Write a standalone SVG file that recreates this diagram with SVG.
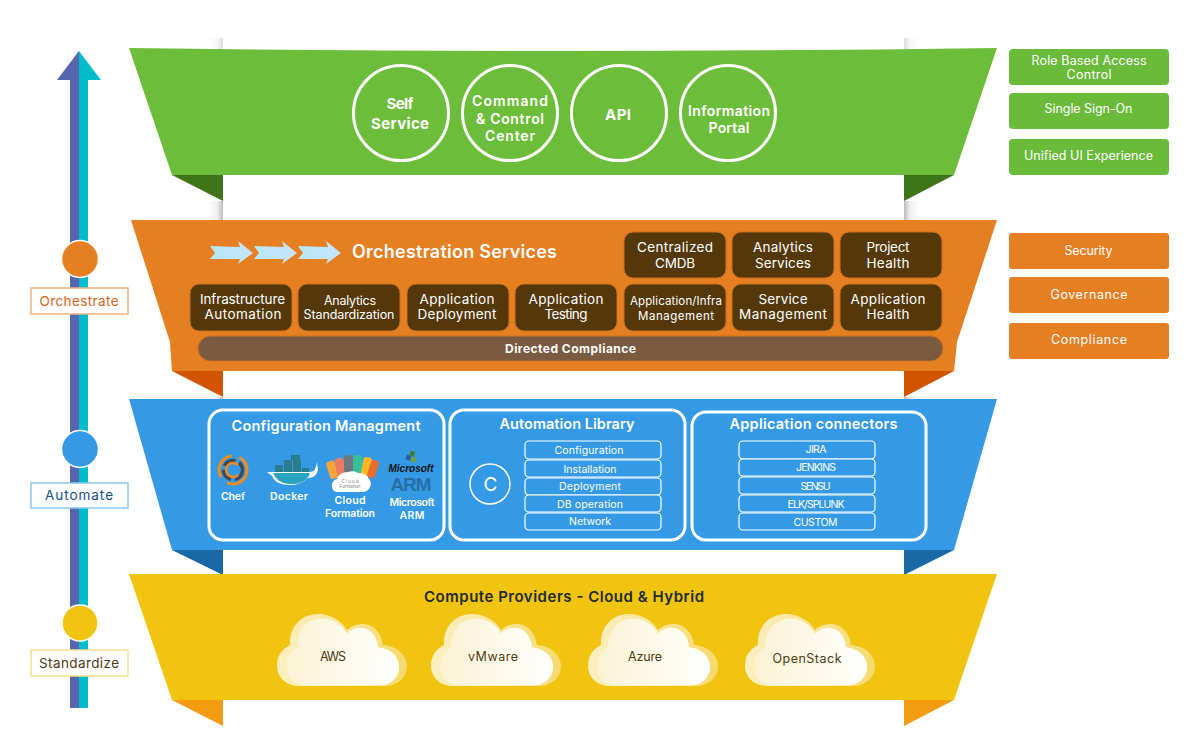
<svg xmlns="http://www.w3.org/2000/svg" width="1200" height="756" viewBox="0 0 1200 756">
<style>
text{font-family:"Inter","Lato","Liberation Sans",sans-serif;text-anchor:middle;fill:#fff}
.b{font-weight:700}
.s{font-weight:600}
.dk{fill:#54380a;stroke:#c9701f;stroke-width:1}
.t13{font-size:12.500px}
.t14{font-size:13.500px}
.t12{font-size:10.500px}
.lib{fill:#349ae6;stroke:#fff;stroke-width:1.2}
.pan{fill:#349ae6;stroke:#fff;stroke-width:3}
.lab{fill:#fff;stroke-width:1.5}
.ink{fill:#4f3a12}
.circ{fill:none;stroke:#fff;stroke-width:3}
</style>
<defs>
<linearGradient id="pl" x1="0" x2="1" y1="0" y2="0"><stop offset="0" stop-color="#fff"/><stop offset=".6" stop-color="#f0f0f0"/><stop offset="1" stop-color="#bdbdbd"/></linearGradient>
<linearGradient id="pr" x1="0" x2="1" y1="0" y2="0"><stop offset="0" stop-color="#bdbdbd"/><stop offset=".4" stop-color="#f0f0f0"/><stop offset="1" stop-color="#fff"/></linearGradient>
<linearGradient id="cl1" x1="0" x2="1" y1="0" y2="0"><stop offset="0" stop-color="#fbf0c2"/><stop offset="1" stop-color="#f7da6e"/></linearGradient>
<linearGradient id="cl2" x1="0" x2="1" y1="0" y2="0"><stop offset="0" stop-color="#fbf3d3"/><stop offset="1" stop-color="#ffffff"/></linearGradient>
<linearGradient id="ar" x1="0" x2="1" y1="0" y2="0"><stop offset="0" stop-color="#b7e8f3"/><stop offset="1" stop-color="#c6e4ff"/></linearGradient>
<g id="cloud">
<path fill="url(#cl1)" d="M22 72C8 72 0 62 0 52C0 42 5 35 13 31C12 12 25 0 41 0C54 0 65 7 70 16C74 12 80 10 86 10C97 10 105 20 106 31C120 32 130 41 130 52C130 64 120 72 108 72Z"/>
<path fill="url(#cl2)" transform="translate(9 4.500) scale(.87 .93)" d="M22 72C8 72 0 62 0 52C0 42 5 35 13 31C12 12 25 0 41 0C54 0 65 7 70 16C74 12 80 10 86 10C97 10 105 20 106 31C120 32 130 41 130 52C130 64 120 72 108 72Z"/>
</g>
<polygon id="chev" fill="url(#ar)" points="210,246 240,247 238,241 253,253 238,264 240,259 210,259 215,253"/>
</defs>

<g id="pillars">
<rect x="208" y="38" width="15" height="12" fill="url(#pl)" opacity=".5"/><rect x="904" y="38" width="15" height="12" fill="url(#pr)" opacity=".5"/>
<rect x="208" y="201" width="15" height="20" fill="url(#pl)"/><rect x="904" y="201" width="15" height="20" fill="url(#pr)"/>
<rect x="208" y="397" width="15" height="3" fill="url(#pl)"/><rect x="904" y="397" width="15" height="3" fill="url(#pr)"/>
</g>

<g id="connectors">
<polygon fill="#5566b1" points="79,51 57,80 70,80 70,708 79,708"/>
<polygon fill="#00bccd" points="79,51 101,80 88,80 88,708 79,708"/>
</g>

<g id="band-portal">
<polygon fill="#3f7519" points="172,175 223,201 223,175"/>
<polygon fill="#3f7519" points="954,175 904,201 904,175"/>
<path fill="#6cbe3a" d="M129 48Q563 54 997 48L954 175H172Z"/>
</g>
<g id="self-service"><circle class="circ" cx="401" cy="113" r="47.500"/><text class="b" x="400" y="109" font-size="15" textLength="27">Self</text><text class="b" x="400" y="129" font-size="15" textLength="58">Service</text></g>
<g id="command-control"><circle class="circ" cx="510" cy="113" r="47.500"/><text class="s" x="510" y="106" font-size="14" textLength="76">Command</text><text class="s" x="510" y="124" font-size="14" textLength="68">&amp; Control</text><text class="s" x="510" y="141" font-size="14" textLength="50">Center</text></g>
<g id="api"><circle class="circ" cx="619" cy="113" r="47.500"/><text class="b" x="618" y="120" font-size="15" textLength="26">API</text></g>
<g id="information-portal"><circle class="circ" cx="728" cy="113" r="47.500"/><text class="s" x="729" y="116" font-size="14" textLength="82">Information</text><text class="s" x="729" y="133" font-size="14" textLength="41">Portal</text></g>

<g id="band-orchestration">
<polygon fill="#d35400" points="172,371 223,397 223,371"/>
<polygon fill="#d35400" points="954,371 904,397 904,371"/>
<polygon fill="#e67e22" points="131,220 997,220 957,342 954,371 172,371 170,342"/>
<use href="#chev"/><use href="#chev" x="44"/><use href="#chev" x="88"/>
<text class="s" x="454.500" y="258" font-size="18" textLength="205">Orchestration Services</text>
</g>
<g id="centralized-cmdb"><rect class="dk" x="624" y="232" width="102" height="46" rx="9"/><text class="t14" x="675" y="252" textLength="76">Centralized</text><text class="t14" x="675" y="268" textLength="40">CMDB</text></g>
<g id="analytics-services"><rect class="dk" x="732" y="232" width="102" height="46" rx="9"/><text class="t14" x="783" y="252" textLength="60">Analytics</text><text class="t14" x="783" y="268" textLength="56">Services</text></g>
<g id="project-health"><rect class="dk" x="840" y="232" width="102" height="46" rx="9"/><text class="t14" x="888" y="252" textLength="43">Project</text><text class="t14" x="888" y="268" textLength="43">Health</text></g>
<g id="infrastructure-automation"><rect class="dk" x="190" y="284" width="102" height="47" rx="9"/><text class="t14" x="242.500" y="304" textLength="85">Infrastructure</text><text class="t14" x="243" y="319" textLength="77">Automation</text></g>
<g id="analytics-standardization"><rect class="dk" x="298" y="284" width="102" height="47" rx="9"/><text x="350" y="305" font-size="12.500" textLength="52">Analytics</text><text x="349" y="319" font-size="12.500" textLength="91">Standardization</text></g>
<g id="application-deployment"><rect class="dk" x="407" y="284" width="102" height="47" rx="9"/><text class="t14" x="457" y="304" textLength="75">Application</text><text class="t14" x="457" y="319" textLength="79">Deployment</text></g>
<g id="application-testing"><rect class="dk" x="515" y="284" width="102" height="47" rx="9"/><text class="t14" x="566" y="304" textLength="75">Application</text><text class="t14" x="566" y="319" textLength="43">Testing</text></g>
<g id="application-infra"><rect class="dk" x="624" y="284" width="102" height="47" rx="9"/><text x="676" y="305" font-size="11.500" textLength="92">Application/Infra</text><text x="676" y="320" font-size="11.500" textLength="76">Management</text></g>
<g id="service-management"><rect class="dk" x="732" y="284" width="102" height="47" rx="9"/><text class="t14" x="783" y="304" textLength="49">Service</text><text class="t14" x="783" y="319" textLength="88">Management</text></g>
<g id="application-health"><rect class="dk" x="840" y="284" width="102" height="47" rx="9"/><text class="t14" x="888" y="304" textLength="75">Application</text><text class="t14" x="888" y="319" textLength="43">Health</text></g>
<g id="directed-compliance"><rect x="198" y="336" width="745" height="25" rx="12.500" fill="#7a5a40" stroke="#c9701f"/><text class="b" x="570.500" y="353" font-size="12" textLength="131">Directed Compliance</text></g>

<g id="band-automation">
<polygon fill="#1768a5" points="172,550 223,575 223,550"/>
<polygon fill="#1768a5" points="954,550 904,575 904,550"/>
<polygon fill="#349ae6" points="129,399 997,399 954,550 172,550"/>
</g>
<g id="configuration-management">
<rect class="pan" x="209" y="410" width="235" height="130" rx="14"/>
<text class="s" x="326" y="431" font-size="14.500" textLength="189">Configuration Managment</text>
<g id="chef-logo" fill="none">
<circle cx="233" cy="470" r="14" stroke="#f18b21" stroke-width="3" stroke-dasharray="28 8"/>
<circle cx="233" cy="470" r="9.500" stroke="#3c4a5a" stroke-width="3.500" stroke-dasharray="13 4"/>
<path d="M238 465a7 7 0 1 0 0 10" stroke="#f18b21" stroke-width="2.500"/>
</g>
<text class="s" x="233" y="500" font-size="10.500" textLength="24">Chef</text>
<g id="docker-logo">
<path fill="#fff" d="M267 472H310Q316 472 317 462L318 470Q316 478 308 478Q300 486 287 485Q275 484 272 476Z"/>
<path fill="#2aa5c0" d="M273 473H310Q306 485 289 484Q277 483 273 473Z"/>
<path fill="#2a7d8c" d="M275 465h8v7h-8zM284 465h8v7h-8zM293 465h8v7h-8zM284 460h8v5h-8zM293 460h8v5h-8zM291 455h9v5h-9zM302 468h7v4h-7z"/>
</g>
<text class="s" x="289" y="500" font-size="10.500" textLength="38">Docker</text>
<g id="cloudformation-logo">
<rect x="328" y="461" width="9" height="18" rx="3" fill="#f6a33a" transform="rotate(-18 332 470)"/>
<rect x="336" y="458" width="9" height="20" rx="3" fill="#ec7a63" transform="rotate(-10 340 468)"/>
<rect x="344" y="455" width="9" height="22" rx="3" fill="#6f7880"/>
<rect x="353" y="455" width="9" height="22" rx="3" fill="#37bf9a"/>
<rect x="362" y="457" width="9" height="20" rx="3" fill="#f9b824" transform="rotate(10 366 467)"/>
<rect x="369" y="460" width="8" height="18" rx="3" fill="#ef6a2d" transform="rotate(18 373 469)"/>
<path fill="#fff" d="M337 492Q331 491 332 484Q333 480 337 479Q339 472 348 472Q354 470 358 473Q366 472 369 479Q372 482 370 487Q368 492 362 492Z"/>
<text x="350" y="483" font-size="4.500" style="fill:#7a7f85" textLength="17">Cloud</text>
<text x="350" y="488" font-size="4.500" style="fill:#7a7f85" textLength="21">Formation</text>
</g>
<text class="s" x="350" y="504" font-size="10.500" textLength="31">Cloud</text>
<text class="s" x="350" y="517" font-size="10.500" textLength="50">Formation</text>
<g id="arm-logo">
<rect x="410" y="451" width="5" height="5" fill="#3f7e3a" transform="rotate(20 412 453)"/><rect x="406" y="455" width="5" height="5" fill="#2d5fa8" transform="rotate(20 408 457)"/><rect x="411" y="457" width="5" height="5" fill="#6aa53a" transform="rotate(20 413 459)"/>
<text x="411" y="472" font-size="10" font-weight="800" font-style="italic" style="fill:#111;font-family:'Liberation Sans',sans-serif" textLength="45">Microsoft</text>
<text x="411" y="491" font-size="19" font-weight="700" style="fill:#2a6ea6;font-family:'Liberation Sans',sans-serif" textLength="41">ARM</text>
</g>
<text class="s" x="412" y="506" font-size="10.500" textLength="45">Microsoft</text>
<text class="s" x="412" y="519" font-size="10.500" textLength="25">ARM</text>
</g>
<g id="automation-library">
<rect class="pan" x="450" y="410" width="235" height="130" rx="14"/>
<text class="s" x="567" y="429" font-size="14.500" textLength="135">Automation Library</text>
<circle cx="490" cy="484" r="20" fill="none" stroke="#fff" stroke-width="1.500"/>
<text x="490.500" y="491" font-size="19">C</text>
<rect class="lib" x="525" y="441" width="136" height="18" rx="4"/><text class="t12" x="589" y="454" textLength="69">Configuration</text>
<rect class="lib" x="525" y="460" width="136" height="17" rx="4"/><text class="t12" x="590" y="473" textLength="53">Installation</text>
<rect class="lib" x="525" y="478" width="136" height="17" rx="4"/><text class="t12" x="590" y="490" textLength="62">Deployment</text>
<rect class="lib" x="525" y="495" width="136" height="17" rx="4"/><text class="t12" x="590" y="508" textLength="66">DB operation</text>
<rect class="lib" x="525" y="513" width="136" height="17" rx="4"/><text class="t12" x="590" y="525" textLength="42">Network</text>
</g>
<g id="application-connectors">
<rect class="pan" x="692" y="412" width="234" height="128" rx="14"/>
<text class="s" x="813.500" y="429" font-size="14.500" textLength="168">Application connectors</text>
<rect class="lib" x="739" y="441" width="136" height="18" rx="4"/><text class="t12" x="816" y="453" textLength="21">JIRA</text>
<rect class="lib" x="739" y="459" width="136" height="17" rx="4"/><text class="t12" x="816" y="471" textLength="40">JENKINS</text>
<rect class="lib" x="739" y="477" width="136" height="17" rx="4"/><text class="t12" x="815.500" y="490" textLength="30">SENSU</text>
<rect class="lib" x="739" y="495" width="136" height="17" rx="4"/><text class="t12" x="816" y="508" textLength="57">ELK/SPLUNK</text>
<rect class="lib" x="739" y="513" width="136" height="17" rx="4"/><text class="t12" x="815.500" y="526" textLength="44">CUSTOM</text>
</g>

<g id="band-compute">
<polygon fill="#f39c12" points="172,700 223,726 223,700"/>
<polygon fill="#f39c12" points="954,700 904,726 904,700"/>
<polygon fill="#f1c40f" points="129,574 997,574 954,700 172,700"/>
<text class="s" x="564" y="602" font-size="15" textLength="280" style="fill:#1f2a33">Compute Providers - Cloud &amp; Hybrid</text>
</g>
<g id="aws"><use href="#cloud" x="277" y="614"/><text class="ink" font-size="12.500" x="333" y="661" textLength="26">AWS</text></g>
<g id="vmware"><use href="#cloud" x="431" y="614"/><text class="ink" font-size="12.500" x="493" y="661" textLength="50">vMware</text></g>
<g id="azure"><use href="#cloud" x="588" y="614"/><text class="ink" font-size="12.500" x="645" y="661" textLength="34">Azure</text></g>
<g id="openstack"><use href="#cloud" x="745" y="614"/><text class="ink" font-size="12.500" x="807" y="663" textLength="69">OpenStack</text></g>

<g id="orchestrate"><circle cx="80" cy="259" r="18.500" fill="#e67e22" stroke="#fff" stroke-width="1.500"/><rect class="lab" x="31" y="288" width="97" height="26" stroke="#f0b184"/><text x="79" y="306" font-size="13.500" textLength="79" style="fill:#d4651a">Orchestrate</text></g>
<g id="automate"><circle cx="80" cy="449" r="18.500" fill="#349ae6" stroke="#fff" stroke-width="1.500"/><rect class="lab" x="31" y="483" width="97" height="25" stroke="#8cc6ee"/><text x="79" y="500" font-size="13.500" textLength="68" style="fill:#14507f">Automate</text></g>
<g id="standardize"><circle cx="80" cy="623" r="18" fill="#f1c40f" stroke="#fff" stroke-width="1.500"/><rect class="lab" x="31" y="650" width="97" height="26" stroke="#f7df8a"/><text x="79" y="668" font-size="13.500" textLength="80" style="fill:#4f3a12">Standardize</text></g>

<g id="role-based-access"><rect x="1009" y="49" width="160" height="36" rx="4" fill="#69bb39"/><text class="t13" x="1089" y="65" textLength="115">Role Based Access</text><text class="t13" x="1089" y="79" textLength="45">Control</text></g>
<g id="single-sign-on"><rect x="1009" y="93" width="160" height="36" rx="4" fill="#69bb39"/><text class="t13" x="1088.500" y="113" textLength="88">Single Sign-On</text></g>
<g id="unified-ui"><rect x="1009" y="139" width="160" height="36" rx="4" fill="#69bb39"/><text class="t13" x="1088.500" y="160" textLength="129">Unified UI Experience</text></g>
<g id="security"><rect x="1009" y="233" width="160" height="36" rx="3" fill="#e67e22"/><text class="t13" x="1088.500" y="255" textLength="48">Security</text></g>
<g id="governance"><rect x="1009" y="277" width="160" height="36" rx="3" fill="#e67e22"/><text class="t13" x="1089" y="299" textLength="77">Governance</text></g>
<g id="compliance"><rect x="1009" y="323" width="160" height="36" rx="3" fill="#e67e22"/><text class="t13" x="1089" y="344" textLength="76">Compliance</text></g>
</svg>
